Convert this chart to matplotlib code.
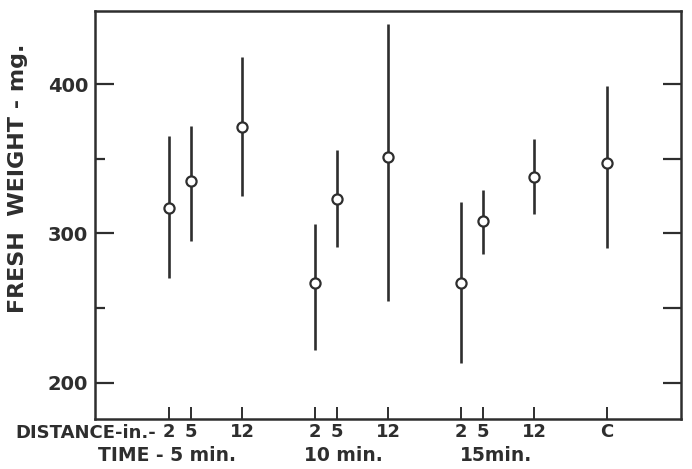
import matplotlib
matplotlib.use("Agg")
import matplotlib.pyplot as plt
import numpy as np

# ---- data ----
groups = ["5 min.", "10 min.", "15 min.", "control"]
distances = [2, 5, 12]
dist_labels = ["2", "5", "12"]
control_label = "C"

mean_5 = [317, 335, 371]
low_5 = [270, 295, 325]
high_5 = [365, 372, 418]

mean_10 = [267, 323, 351]
low_10 = [222, 291, 255]
high_10 = [306, 356, 440]

mean_15 = [267, 308, 338]
low_15 = [213, 286, 313]
high_15 = [321, 329, 363]

mean_c = [347]
low_c = [290]
high_c = [399]

yticks_major = [200, 300, 400]
yticks_minor = [250, 350]

# ---- styling ----
INK = "#2e2e2e"
plt.rcParams["font.family"] = ["DejaVu Sans"]
GROUP_STEP = 20  # inches-equivalent spacing between groups

fig = plt.figure(figsize=(6.92, 4.69), dpi=100)
ax = fig.add_axes([95 / 692, 50 / 469, (681 - 95) / 692, (419 - 11) / 469])

series = [(mean_5, low_5, high_5), (mean_10, low_10, high_10), (mean_15, low_15, high_15)]
xt, xl = [], []
for gi, (m, lo, hi) in enumerate(series):
    xs = [gi * GROUP_STEP + d for d in distances]
    ax.vlines(xs, lo, hi, color=INK, lw=1.9, zorder=2)
    ax.plot(xs, m, "o", ms=7.3, mfc="white", mec=INK, mew=1.6, zorder=3)
    xt += xs
    xl += dist_labels
xc = [3 * GROUP_STEP + distances[0]]
ax.vlines(xc, low_c, high_c, color=INK, lw=1.9, zorder=2)
ax.plot(xc, mean_c, "o", ms=7.3, mfc="white", mec=INK, mew=1.6, zorder=3)
xt += xc
xl += [control_label]

ax.set_xlim(-8.14, 72.1)
ax.set_ylim(175.7, 449)

for s in ax.spines.values():
    s.set_color(INK)
    s.set_linewidth(1.8)

ax.set_xticks(xt)
ax.set_xticklabels(xl, fontsize=13, fontweight="bold", color=INK)
ax.tick_params(axis="x", direction="in", length=9, width=1.4, color=INK, pad=3)

ax.set_yticks(yticks_major)
ax.set_yticklabels([str(v) for v in yticks_major], fontsize=14, fontweight="bold", color=INK)
ax.set_yticks(yticks_minor, minor=True)
ax.tick_params(axis="y", which="major", direction="in", length=14, width=1.6, color=INK, pad=5)
ax.tick_params(axis="y", which="minor", direction="in", length=7, width=1.6, color=INK)

sec = ax.secondary_yaxis("right")
sec.set_yticks(sorted(yticks_major + yticks_minor))
sec.set_yticklabels([])
sec.tick_params(direction="in", length=13, width=1.6, color=INK)
sec.spines["right"].set_visible(False)

# axis texts
fig.text(15 / 692, 1 - 433 / 469, "DISTANCE-in.-", fontsize=13, fontweight="bold",
         color=INK, ha="left", va="center")
fig.text(18 / 692, 1 - 178 / 469, "FRESH  WEIGHT - mg.", rotation=90, fontsize=16,
         fontweight="bold", color=INK, ha="center", va="center")

time_labels = ["TIME - 5 min.", "10 min.", "15min."]
time_x = [167, 343, 496]
for lbl, px in zip(time_labels, time_x):
    fig.text(px / 692, 1 - 455 / 469, lbl, fontsize=13.5, fontweight="bold",
             color=INK, ha="center", va="center")

fig.savefig("out.png", dpi=100, facecolor="white")
